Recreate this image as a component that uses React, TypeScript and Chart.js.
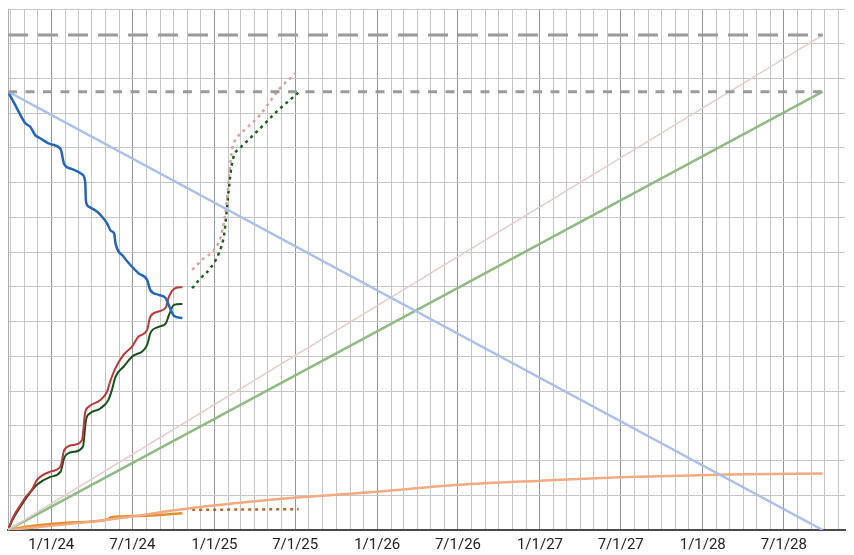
import { useEffect, useRef } from "react";
import { Chart, registerables } from "chart.js";

Chart.register(...registerables);

// ---- Data ----
const startDate = "2023-09-26";
const endDate = "2028-09-26";
const axisMaxDate = "2028-11-15";

const goalLevel = 14.25;
const targetLevel = 12.62;

const tickLabelDates = [
  "2024-01-01", "2024-07-01", "2025-01-01", "2025-07-01", "2026-01-01",
  "2026-07-01", "2027-01-01", "2027-07-01", "2028-01-01", "2028-07-01",
];
const tickLabels = [
  "1/1/24", "7/1/24", "1/1/25", "7/1/25", "1/1/26",
  "7/1/26", "1/1/27", "7/1/27", "1/1/28", "7/1/28",
];

const blueDates = [
  "2023-09-26", "2023-10-12", "2023-11-04", "2023-11-15", "2023-11-26", "2023-12-07",
  "2023-12-30", "2024-01-22", "2024-01-30", "2024-02-17", "2024-03-10", "2024-03-17",
  "2024-03-19", "2024-03-25", "2024-04-13", "2024-04-24", "2024-05-05", "2024-05-14",
  "2024-05-21", "2024-05-24", "2024-06-11", "2024-06-30", "2024-07-15", "2024-08-03",
  "2024-08-10", "2024-08-29", "2024-09-14", "2024-09-21", "2024-10-02", "2024-10-21",
];
const blueValues = [
  12.62, 12.24, 11.71, 11.61, 11.37, 11.28,
  11.11, 10.97, 10.53, 10.39, 10.24, 10.03,
  9.45, 9.31, 9.16, 9.02, 8.83, 8.61,
  8.54, 8.26, 7.87, 7.58, 7.39, 7.2,
  6.91, 6.77, 6.67, 6.46, 6.17, 6.1,
];

const redDates = [
  "2023-09-26", "2023-10-08", "2023-10-24", "2023-11-04", "2023-11-19", "2023-11-30",
  "2023-12-30", "2024-01-22", "2024-01-30", "2024-02-20", "2024-03-10", "2024-03-17",
  "2024-03-25", "2024-04-20", "2024-05-05", "2024-05-12", "2024-05-24", "2024-06-11",
  "2024-06-30", "2024-07-15", "2024-08-03", "2024-08-10", "2024-08-29", "2024-09-14",
  "2024-09-21", "2024-10-05", "2024-10-21",
];
const redValues = [
  0, 0.38, 0.72, 0.94, 1.17, 1.44,
  1.68, 1.84, 2.3, 2.45, 2.59, 3.38,
  3.55, 3.74, 3.98, 4.27, 4.66, 5.04,
  5.28, 5.57, 5.76, 6.14, 6.29, 6.41,
  6.72, 6.96, 6.99,
];

const greenDates = [
  "2023-09-26", "2023-10-08", "2023-10-24", "2023-11-08", "2023-11-30", "2023-12-30",
  "2024-01-22", "2024-01-31", "2024-02-20", "2024-03-12", "2024-03-19", "2024-03-28",
  "2024-04-20", "2024-05-08", "2024-05-16", "2024-05-24", "2024-06-11", "2024-06-30",
  "2024-08-03", "2024-08-10", "2024-08-29", "2024-09-14", "2024-09-21", "2024-10-02",
  "2024-10-21",
];
const greenValues = [
  0, 0.34, 0.67, 0.96, 1.3, 1.53,
  1.68, 2.11, 2.25, 2.4, 3.17, 3.36,
  3.5, 3.74, 4.03, 4.41, 4.7, 4.99,
  5.33, 5.66, 5.85, 5.95, 6.19, 6.48,
  6.51,
];

const orangeDates = [
  "2023-09-26", "2023-11-22", "2024-02-06", "2024-05-08", "2024-05-14", "2024-07-03", "2024-10-21",
];
const orangeValues = [0, 0.12, 0.21, 0.31, 0.37, 0.4, 0.48];

const pinkForecastDates = [
  "2024-11-12", "2024-12-08", "2024-12-31", "2025-01-15", "2025-01-23", "2025-01-29",
  "2025-02-03", "2025-02-10", "2025-02-20", "2025-03-14", "2025-04-13", "2025-05-05",
  "2025-05-28", "2025-07-02",
];
const pinkForecastValues = [
  7.49, 7.82, 8.06, 8.45, 8.93, 9.5,
  10.27, 10.99, 11.28, 11.57, 11.95, 12.33,
  12.72, 13.15,
];

const greenForecastDates = [
  "2024-11-12", "2024-12-01", "2024-12-23", "2025-01-11", "2025-01-23", "2025-01-30",
  "2025-02-06", "2025-02-13", "2025-02-27", "2025-03-22", "2025-04-21", "2025-05-20",
  "2025-07-08",
];
const greenForecastValues = [
  6.96, 7.25, 7.54, 7.97, 8.54, 9.41,
  10.27, 10.75, 10.99, 11.28, 11.66, 12.04,
  12.59,
];

const orangeForecastDates = ["2024-11-12", "2025-07-09"];
const orangeForecastValues = [0.58, 0.6];

const orangeTrendDates = [
  "2023-09-26", "2024-04-20", "2024-11-30", "2025-07-12", "2025-12-30",
  "2026-07-03", "2027-01-02", "2027-06-29", "2028-02-28", "2028-09-26",
];
const orangeTrendValues = [0, 0.27, 0.66, 0.94, 1.1, 1.3, 1.42, 1.52, 1.6, 1.63];

// ---- helpers ----
const ts = (s: string) => Date.parse(s + "T00:00:00Z");
const pts = (dates: string[], values: number[]) =>
  dates.map((d, i) => ({ x: ts(d), y: values[i] }));

function monthTicks(): number[] {
  const out: number[] = [];
  const s = new Date(ts(startDate));
  let y = s.getUTCFullYear();
  let m = s.getUTCMonth() + 1;
  const max = ts(axisMaxDate);
  while (true) {
    const v = Date.UTC(y, m, 1);
    if (v > max) break;
    out.push(v);
    m++;
    if (m > 11) { m = 0; y++; }
  }
  return out;
}

export default function App() {
  const ref = useRef<HTMLCanvasElement | null>(null);

  useEffect(() => {
    if (!ref.current) return;
    const labelMap = new Map<number, string>();
    tickLabelDates.forEach((d, i) => labelMap.set(ts(d), tickLabels[i]));
    const ticks = monthTicks();
    const isMajor = (v: number) => {
      const d = new Date(v);
      return d.getUTCDate() === 1 && (d.getUTCMonth() === 0 || d.getUTCMonth() === 6);
    };

    const base = { pointRadius: 0, pointHoverRadius: 0, fill: false };
    const chart = new Chart(ref.current, {
      type: "line",
      data: {
        datasets: [
          { ...base, data: pts([startDate, endDate], [goalLevel, goalLevel]), borderColor: "#9a9a9a", borderWidth: 3, borderDash: [20, 10] },
          { ...base, data: pts([startDate, endDate], [targetLevel, targetLevel]), borderColor: "#9a9a9a", borderWidth: 3, borderDash: [9, 8.5] },
          { ...base, data: pts([startDate, endDate], [targetLevel, 0]), borderColor: "#a9c0e8", borderWidth: 2.5 },
          { ...base, data: pts([startDate, endDate], [0, goalLevel]), borderColor: "#e6cccc", borderWidth: 1.5 },
          { ...base, data: pts([startDate, endDate], [0, targetLevel]), borderColor: "#8fba83", borderWidth: 2.5 },
          { ...base, data: pts(orangeTrendDates, orangeTrendValues), borderColor: "#f2aa80", borderWidth: 2.5, cubicInterpolationMode: "monotone" },
          { ...base, data: pts(orangeDates, orangeValues), borderColor: "#e08c2c", borderWidth: 2.5, cubicInterpolationMode: "monotone" },
          { ...base, data: pts(orangeForecastDates, orangeForecastValues), borderColor: "#b5652a", borderWidth: 2.5, borderDash: [3, 4] },
          { ...base, data: pts(pinkForecastDates, pinkForecastValues), borderColor: "#d9a3a3", borderWidth: 2.5, borderDash: [3, 4], cubicInterpolationMode: "monotone" },
          { ...base, data: pts(greenForecastDates, greenForecastValues), borderColor: "#1f5e22", borderWidth: 2.5, borderDash: [3, 4], cubicInterpolationMode: "monotone" },
          { ...base, data: pts(blueDates, blueValues), borderColor: "#2565b5", borderWidth: 2.5, cubicInterpolationMode: "monotone" },
          { ...base, data: pts(redDates, redValues), borderColor: "#b73a3a", borderWidth: 2, cubicInterpolationMode: "monotone" },
          { ...base, data: pts(greenDates, greenValues), borderColor: "#17501a", borderWidth: 2, cubicInterpolationMode: "monotone" },
        ],
      },
      options: {
        animation: false,
        responsive: true,
        maintainAspectRatio: false,
        layout: { padding: { left: 8, right: 9, top: 9, bottom: 0 } },
        plugins: { legend: { display: false }, tooltip: { enabled: false } },
        scales: {
          x: {
            type: "linear",
            min: ts(startDate),
            max: ts(axisMaxDate),
            afterBuildTicks: (scale: any) => {
              scale.ticks = ticks.map((v) => ({ value: v }));
            },
            afterFit: (scale: any) => {
              scale.height = 25;
            },
            grid: {
              drawTicks: false,
              color: (ctx: any) => (ctx.tick && isMajor(ctx.tick.value) ? "#959595" : "#c4c4c4"),
              lineWidth: 1,
            },
            border: { display: true, color: "#4a4a4a", width: 2 },
            ticks: {
              autoSkip: false,
              maxRotation: 0,
              minRotation: 0,
              padding: 6,
              color: "#222222",
              font: { family: "Roboto", size: 15 },
              callback: (v: any) => labelMap.get(Number(v)) ?? "",
            },
          },
          y: {
            type: "linear",
            min: 0,
            max: 15,
            afterFit: (scale: any) => {
              scale.width = 0;
            },
            ticks: { display: false, stepSize: 1 },
            grid: { drawTicks: false, color: "#c6c6c6", lineWidth: 1 },
            border: { display: true, color: "#aaaaaa", width: 1 },
          },
        },
      },
    } as any);
    return () => chart.destroy();
  }, []);

  return (
    <div style={{ position: "absolute", left: 0, top: 0, width: 854, height: 555, background: "#ffffff" }}>
      <canvas ref={ref} />
    </div>
  );
}
